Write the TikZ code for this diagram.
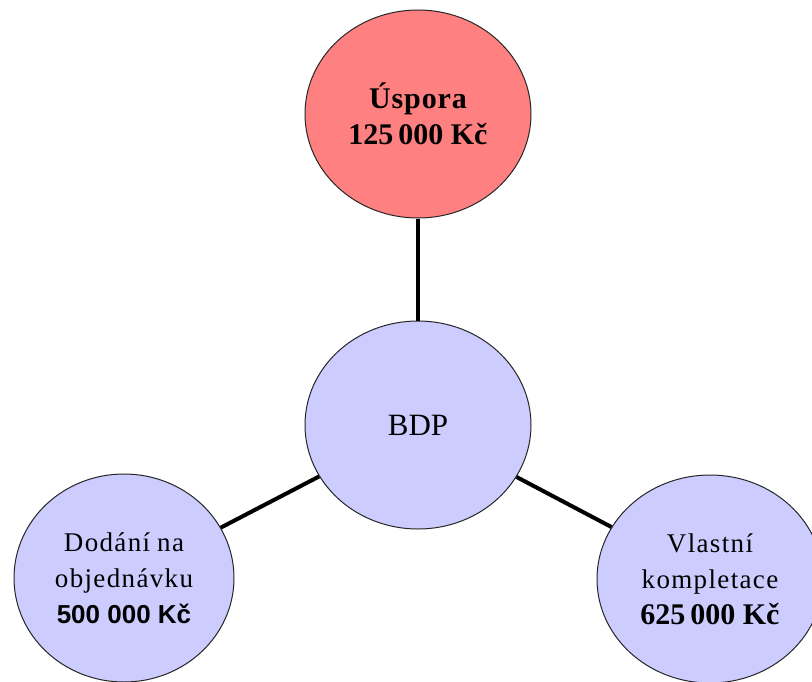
\documentclass[tikz,border=0pt]{standalone}
\usepackage{fontspec}
\setmainfont{Liberation Serif}
\newfontfamily\sansfam{Liberation Sans}
\usetikzlibrary{shapes.geometric}
\definecolor{redfill}{HTML}{FF8080}
\definecolor{bluefill}{HTML}{CCCCFF}
\tikzset{
  bubble/.style={ellipse, draw=black!85, line width=1pt, inner sep=0pt, align=center,
    font=\fontsize{27}{36}\selectfont},
  link/.style={line width=4pt, black}
}
\newcommand{\spaced}[1]{{\addfontfeature{LetterSpace=5}#1}}
\newcommand{\bignum}[1]{{\bfseries\fontsize{30}{36}\selectfont #1}}
\begin{document}
\begin{tikzpicture}[x=1pt,y=-1pt]
\useasboundingbox (0,0) rectangle (812,681);
\node[bubble, fill=redfill, minimum width=226pt, minimum height=208pt] (uspora) at (418,114)
  {\bignum{\addfontfeature{LetterSpace=3}Úspora}\\ \bignum{125\,000 Kč}};
\node[bubble, fill=bluefill, minimum width=226pt, minimum height=208pt] (bdp) at (418,425)
  {{\fontsize{31}{36}\selectfont BDP}};
\node[bubble, fill=bluefill, minimum width=220pt, minimum height=208pt] (dodani) at (124,578)
  {\spaced{Dodání}\hspace{7pt}\spaced{na}\\ \spaced{objednávku}\\ {\sansfam\bfseries\fontsize{26}{36}\selectfont 500 000 Kč}};
\node[bubble, fill=bluefill, minimum width=226pt, minimum height=208pt] (vlastni) at (710,579)
  {\spaced{Vlastní}\\ \spaced{kompletace}\\ \bignum{625\,000 Kč}};
\draw[link] (uspora) -- (bdp);
\draw[link] (bdp) -- (dodani);
\draw[link] (bdp) -- (vlastni);
\end{tikzpicture}
\end{document}
